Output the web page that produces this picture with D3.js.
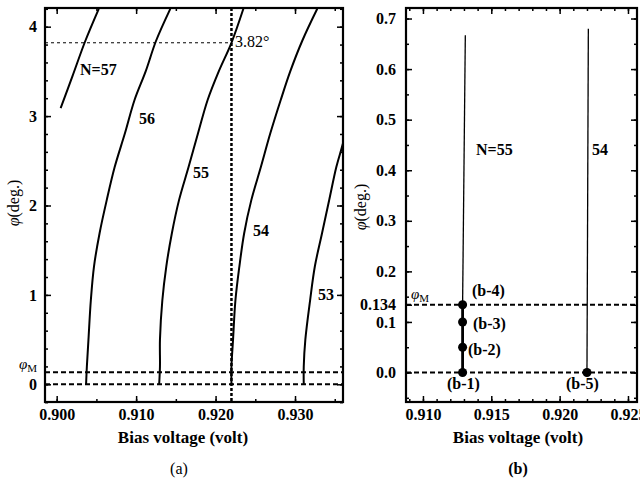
<!DOCTYPE html>
<meta charset="utf-8">
<style>
body { margin: 0; background: #fff; }
svg, svg text { font-family: "Liberation Serif", "DejaVu Serif", serif; }
.tick text { font-family: "Liberation Serif", serif; font-size: 16px; font-weight: bold; fill: #000; }
.tick line { stroke: #000; stroke-width: 1.5; }
.frame { fill: none; stroke: #000; stroke-width: 2.2; }
.curve { fill: none; stroke: #000; stroke-width: 2; }
.lbl { font-size: 16px; font-weight: bold; }
</style>
<script src="https://cdnjs.cloudflare.com/ajax/libs/d3/7.8.5/d3.min.js"></script>
<body>
<script>

// panel (a): phi vs bias voltage for each N, [volt, deg]
var curveA57 = [[0.9005,3.09],[0.9020,3.45],[0.9036,3.84],[0.9053,4.2]];
var curveA56 = [[0.9037,0],[0.9038,0.2],[0.9040,0.5],[0.9043,0.94],[0.9047,1.32],[0.9054,1.69],[0.9063,2.06],[0.9073,2.43],[0.9086,2.81],[0.9098,3.18],[0.9112,3.5],[0.9125,3.84],[0.9143,4.2]];
var curveA55 = [[0.9129,0],[0.9130,0.2],[0.9130,0.5],[0.9133,0.94],[0.9138,1.32],[0.9145,1.69],[0.9154,2.06],[0.9166,2.43],[0.9178,2.81],[0.9190,3.18],[0.9204,3.5],[0.9220,3.82],[0.9235,4.2]];
var curveA54 = [[0.9220,0],[0.9220,0.2],[0.9222,0.5],[0.9225,0.94],[0.9230,1.32],[0.9236,1.69],[0.9245,2.06],[0.9257,2.43],[0.9269,2.81],[0.9282,3.18],[0.9294,3.5],[0.9309,3.84],[0.9328,4.2]];
var curveA53 = [[0.9311,0],[0.9311,0.2],[0.9313,0.5],[0.9319,0.94],[0.9325,1.32],[0.9334,1.69],[0.9343,2.06],[0.9352,2.43],[0.9359,2.65],[0.9365,2.85]];
var phiM = 0.134;
var crossV = 0.9220, crossPhi = 3.82;

// panel (b)
var lineB55 = [[0.9129,0.134],[0.9131,0.667]];
var lineB55low = [[0.9129,0],[0.9129,0.134]];
var lineB54 = [[0.9220,0],[0.9221,0.68]];
var pointsB = [
  {name:"(b-1)", v:0.9129, phi:0},
  {name:"(b-2)", v:0.9129, phi:0.05},
  {name:"(b-3)", v:0.9129, phi:0.1},
  {name:"(b-4)", v:0.9129, phi:0.134},
  {name:"(b-5)", v:0.9220, phi:0}
];

var ticksAx = [0.900, 0.910, 0.920, 0.930];
var ticksAy = [0, 1, 2, 3, 4];
var ticksBx = [0.910, 0.915, 0.920, 0.925];
var ticksBy = [0, 0.1, 0.134, 0.2, 0.3, 0.4, 0.5, 0.6, 0.7];

var svg = d3.select("body").append("svg")
    .attr("width", 640)
    .attr("height", 481);

var xa = d3.scaleLinear().domain([0.89853, 0.93604]).range([45, 343]);
var ya = d3.scaleLinear().domain([-0.198, 4.209]).range([402, 8]);
var xb = d3.scaleLinear().domain([0.90876, 0.92566]).range([406, 637]);
var yb = d3.scaleLinear().domain([-0.0583, 0.7208]).range([402, 8]);

function range(a, b, s) {
  var out = [];
  for (var i = 0; a + i * s <= b + 1e-9; i++) out.push(+(a + i * s).toFixed(5));
  return out;
}

// inward ticks on all four sides, labels on bottom/left only
function frame(x, y, xt, yt, xminor, yminor, xfmt, yfmt, ypad) {
  var x0 = x.range()[0], x1 = x.range()[1], y0 = y.range()[0], y1 = y.range()[1];
  svg.append("g").attr("transform", "translate(0," + y0 + ")")
      .call(d3.axisBottom(x).tickValues(xminor).tickSize(-3).tickFormat(""));
  svg.append("g").attr("transform", "translate(0," + y1 + ")")
      .call(d3.axisTop(x).tickValues(xminor).tickSize(-3).tickFormat(""));
  svg.append("g").attr("transform", "translate(" + x0 + ",0)")
      .call(d3.axisLeft(y).tickValues(yminor).tickSize(-3).tickFormat(""));
  svg.append("g").attr("transform", "translate(" + x1 + ",0)")
      .call(d3.axisRight(y).tickValues(yminor).tickSize(-3).tickFormat(""));
  svg.append("g").attr("transform", "translate(0," + y0 + ")")
      .call(d3.axisBottom(x).tickValues(xt).tickSize(-6).tickPadding(7).tickFormat(xfmt));
  svg.append("g").attr("transform", "translate(0," + y1 + ")")
      .call(d3.axisTop(x).tickValues(xt).tickSize(-6).tickFormat(""));
  svg.append("g").attr("transform", "translate(" + x0 + ",0)")
      .call(d3.axisLeft(y).tickValues(yt).tickSize(-6).tickPadding(ypad).tickFormat(yfmt));
  svg.append("g").attr("transform", "translate(" + x1 + ",0)")
      .call(d3.axisRight(y).tickValues(yt).tickSize(-6).tickFormat(""));
  svg.selectAll(".domain").remove();
  svg.append("rect").attr("class", "frame")
      .attr("x", x0).attr("y", y1).attr("width", x1 - x0).attr("height", y0 - y1);
}

// ---------- panel (a) ----------
svg.append("clipPath").attr("id", "clipA").append("rect")
    .attr("x", 45).attr("y", 8).attr("width", 298).attr("height", 394);

var lineA = d3.line()
    .x(function(d) { return xa(d[0]); })
    .y(function(d) { return ya(d[1]); })
    .curve(d3.curveCatmullRom);

var ga = svg.append("g").attr("clip-path", "url(#clipA)");
[curveA57, curveA56, curveA55, curveA54, curveA53].forEach(function(c) {
  ga.append("path").attr("class", "curve").attr("d", lineA(c));
});

ga.append("line")
    .attr("x1", 45).attr("x2", 343).attr("y1", ya(0)).attr("y2", ya(0))
    .attr("stroke", "#000").attr("stroke-width", 2).attr("stroke-dasharray", "5,3");
ga.append("line")
    .attr("x1", 45).attr("x2", 343).attr("y1", ya(phiM)).attr("y2", ya(phiM))
    .attr("stroke", "#000").attr("stroke-width", 2).attr("stroke-dasharray", "5,3");
ga.append("line")
    .attr("x1", xa(crossV)).attr("x2", xa(crossV)).attr("y1", 8).attr("y2", 402)
    .attr("stroke", "#000").attr("stroke-width", 2.5).attr("stroke-dasharray", "3,2");
ga.append("line")
    .attr("x1", 45).attr("x2", xa(crossV)).attr("y1", ya(crossPhi)).attr("y2", ya(crossPhi))
    .attr("stroke", "#000").attr("stroke-width", 1).attr("stroke-dasharray", "3,3");

frame(xa, ya, ticksAx, ticksAy, range(0.900, 0.935, 0.005), range(-0.2, 4.2, 0.2),
      d3.format(".3f"), d3.format("d"), 8);

svg.append("text").attr("class", "lbl").attr("x", 80).attr("y", 75).text("N=57");
svg.append("text").attr("class", "lbl").attr("x", 139).attr("y", 124).text("56");
svg.append("text").attr("class", "lbl").attr("x", 193).attr("y", 178).text("55");
svg.append("text").attr("class", "lbl").attr("x", 253).attr("y", 236).text("54");
svg.append("text").attr("class", "lbl").attr("x", 318).attr("y", 300).text("53");
svg.append("text").attr("x", 235).attr("y", 47).style("font-size", "16px").text("3.82°");

var pa = svg.append("text").attr("x", 19).attr("y", 369).style("font-size", "15px");
pa.append("tspan").style("font-style", "italic").text("φ");
pa.append("tspan").attr("dy", 3).style("font-size", "11px").text("M");

svg.append("text").attr("class", "lbl").attr("text-anchor", "middle")
    .attr("x", 183).attr("y", 443).style("font-size", "17px").text("Bias voltage (volt)");
svg.append("text").attr("text-anchor", "middle")
    .attr("x", 179).attr("y", 474).style("font-size", "16px").text("(a)");

var ta = svg.append("text").attr("text-anchor", "middle")
    .attr("transform", "translate(19,203) rotate(-90)").style("font-size", "16px");
ta.append("tspan").style("font-style", "italic").text("φ");
ta.append("tspan").text("(deg.)");

// ---------- panel (b) ----------
var lineB = d3.line()
    .x(function(d) { return xb(d[0]); })
    .y(function(d) { return yb(d[1]); });

svg.append("line")
    .attr("x1", 406).attr("x2", 637).attr("y1", yb(0)).attr("y2", yb(0))
    .attr("stroke", "#000").attr("stroke-width", 2).attr("stroke-dasharray", "5,3");
svg.append("line")
    .attr("x1", 406).attr("x2", 637).attr("y1", yb(phiM)).attr("y2", yb(phiM))
    .attr("stroke", "#000").attr("stroke-width", 2).attr("stroke-dasharray", "5,3");

svg.append("path").attr("d", lineB(lineB55)).attr("stroke", "#000").attr("stroke-width", 1.3).attr("fill", "none");
svg.append("path").attr("d", lineB(lineB54)).attr("stroke", "#000").attr("stroke-width", 1.3).attr("fill", "none");
svg.append("path").attr("d", lineB(lineB55low)).attr("stroke", "#000").attr("stroke-width", 2.8).attr("fill", "none");

svg.selectAll(".pt")
    .data(pointsB)
  .enter().append("circle")
    .attr("class", "pt")
    .attr("r", 4.5)
    .attr("cx", function(d) { return xb(d.v); })
    .attr("cy", function(d) { return yb(d.phi); })
    .style("fill", "#000");

frame(xb, yb, ticksBx, ticksBy, range(0.909, 0.925, 0.001), range(-0.05, 0.7, 0.05),
      d3.format(".3f"), function(d) { return d === 0.134 ? "0.134" : d3.format(".1f")(d); }, 10);

svg.append("text").attr("class", "lbl").attr("x", 476).attr("y", 155).text("N=55");
svg.append("text").attr("class", "lbl").attr("x", 592).attr("y", 155).text("54");

var ptLabels = [
  {name:"(b-4)", x:472, y:296},
  {name:"(b-3)", x:473, y:329},
  {name:"(b-2)", x:468, y:355},
  {name:"(b-1)", x:447, y:389},
  {name:"(b-5)", x:566, y:389}
];
svg.selectAll(".plbl")
    .data(ptLabels)
  .enter().append("text")
    .attr("class", "lbl plbl")
    .attr("x", function(d) { return d.x; })
    .attr("y", function(d) { return d.y; })
    .text(function(d) { return d.name; });

var pb = svg.append("text").attr("x", 411).attr("y", 299).style("font-size", "15px");
pb.append("tspan").style("font-style", "italic").text("φ");
pb.append("tspan").attr("dy", 3).style("font-size", "11px").text("M");

svg.append("text").attr("class", "lbl").attr("text-anchor", "middle")
    .attr("x", 518).attr("y", 443).style("font-size", "17px").text("Bias voltage (volt)");
svg.append("text").attr("class", "lbl").attr("text-anchor", "middle")
    .attr("x", 518).attr("y", 474).style("font-size", "16px").text("(b)");

var tb = svg.append("text").attr("text-anchor", "middle")
    .attr("transform", "translate(366,207) rotate(-90)").style("font-size", "16px");
tb.append("tspan").style("font-style", "italic").text("φ");
tb.append("tspan").text("(deg.)");

</script>
